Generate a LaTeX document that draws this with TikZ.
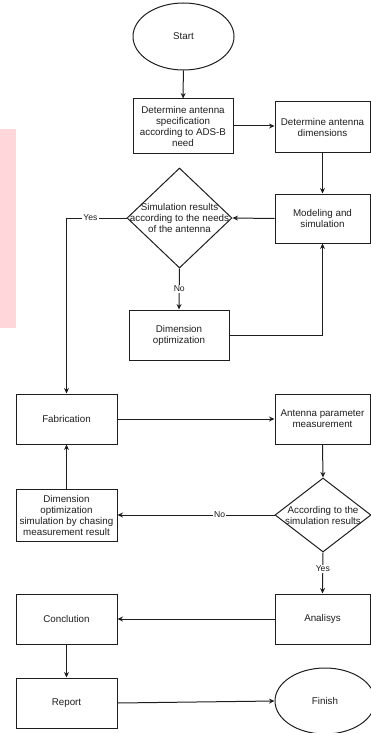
\documentclass[tikz,border=0pt]{standalone}
\usepackage{fontspec}
\setmainfont{Liberation Sans}
\usetikzlibrary{shapes.geometric,arrows.meta}
\definecolor{pinkbar}{HTML}{FFD6D9}
\definecolor{ink}{HTML}{1E1E1E}
\tikzset{
  every node/.style={font=\fontsize{9.8}{11}\selectfont, text=ink},
  box/.style={draw=ink, line width=1pt, rectangle, inner sep=0.5pt, align=center},
  oval/.style={draw=ink, line width=1pt, ellipse, inner sep=0pt},
  dia/.style={draw=ink, line width=1pt, diamond, inner sep=0pt},
  conn/.style={draw=ink, line width=1pt, -{Stealth[length=5.5pt,width=5pt]}},
  lab/.style={fill=white, inner sep=1pt, font=\fontsize{8.6}{10}\selectfont}
}
\begin{document}
\begin{tikzpicture}[x=1pt,y=-1pt]
\useasboundingbox (0,0) rectangle (371,733);
\fill[pinkbar] (0,129) rectangle (16,328);

\node[oval, minimum width=101pt, minimum height=67pt] (start) at (183.5,36.5) {Start};
\node[box, minimum width=100pt, minimum height=54pt] (spec) at (183,126) {Determine antenna\\specification\\according to ADS-B\\need};
\node[box, minimum width=95pt, minimum height=50pt] (dims) at (322.5,127) {Determine antenna\\dimensions};
\node[box, minimum width=95pt, minimum height=49pt] (model) at (322.5,218.5) {Modeling and\\simulation};
\node[dia, minimum width=105pt, minimum height=100pt] (dec1) at (179.5,218) {};
\node[align=center] (dec1t) at (179.5,218) {Simulation results\\according to the needs\\of the antenna};
\node[box, minimum width=100pt, minimum height=50pt] (dimopt) at (179,335) {Dimension\\optimization};
\node[box, minimum width=101pt, minimum height=50pt] (fab) at (66.5,419) {Fabrication};
\node[box, minimum width=95pt, minimum height=50pt] (apm) at (322.5,419) {Antenna parameter\\measurement};
\node[dia, minimum width=96pt, minimum height=74pt] (dec2) at (323,515) {};
\node[align=center] (dec2t) at (323,515) {According to the\\simulation results};
\node[box, minimum width=101pt, minimum height=52pt] (dosbcm) at (66.5,515) {Dimension\\optimization\\simulation by chasing\\measurement result};
\node[box, minimum width=95pt, minimum height=50pt] (anal) at (322.5,619) {Analisys};
\node[box, minimum width=101pt, minimum height=50pt] (conc) at (66.5,619) {Conclution};
\node[box, minimum width=101pt, minimum height=50pt] (report) at (66.5,703) {Report};
\node[oval, minimum width=100pt, minimum height=66pt] (finish) at (325,701) {Finish};

\draw[conn] (start) -- (spec);
\draw[conn] (spec.east) -- (spec.east -| dims.west);
\draw[conn] (dims) -- (model);
\draw[conn] (model.west) -- (dec1.east);
\draw[conn] (dec1.west) -| node[lab, pos=0.3] {Yes} (fab.north);
\draw[conn] (dec1.south) -- node[lab] {No} (dimopt.north);
\draw[conn] (dimopt.east) -| (model.south);
\draw[conn] (fab.east) -- (apm.west);
\draw[conn] (apm.south) -- (dec2.north);
\draw[conn] (dec2.west) -- node[lab, pos=0.35] {No} (dosbcm.east);
\draw[conn] (dosbcm.north) -- (fab.south);
\draw[conn] (dec2.south) -- node[lab, pos=0.4] {Yes} (anal.north);
\draw[conn] (anal.west) -- (conc.east);
\draw[conn] (conc.south) -- (report.north);
\draw[conn] (report.east) -- (finish.west);
\end{tikzpicture}
\end{document}
